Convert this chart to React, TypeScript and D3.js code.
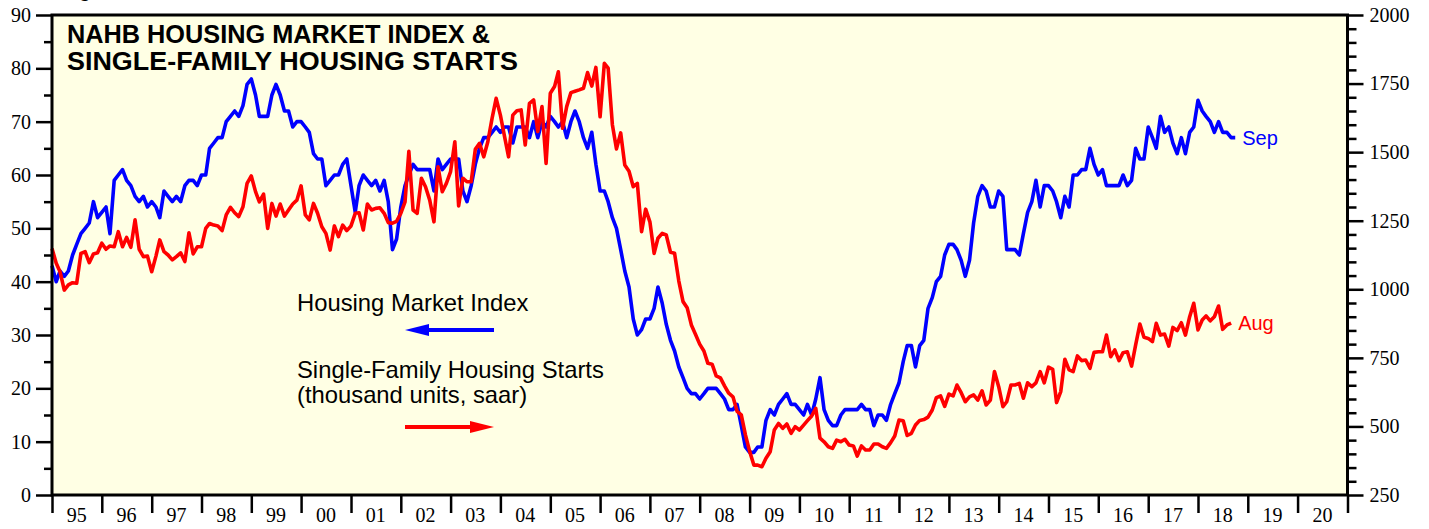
import React, { useEffect, useRef } from 'react';
import * as d3 from 'd3';

// NAHB housing market index (left axis), monthly from Dec 1994 to Sep 2018
const hmi = [
  43,
  40, 42, 41, 42, 45, 47, 49, 50, 51, 55, 52, 53,
  54, 49, 59, 60, 61, 59, 58, 56, 55, 56, 54, 55,
  54, 52, 57, 56, 55, 56, 55, 58, 59, 59, 58, 60,
  60, 65, 66, 67, 67, 70, 71, 72, 71, 73, 77, 78,
  75, 71, 71, 71, 75, 77, 75, 72, 72, 69, 70, 70,
  69, 68, 64, 63, 63, 58, 59, 60, 60, 62, 63, 58,
  53, 58, 60, 59, 58, 59, 57, 59, 55, 46, 48, 54,
  58, 60, 62, 61, 61, 61, 61, 57, 63, 61, 62, 63,
  63, 63, 57, 55, 58, 62, 65, 67, 67, 68, 69, 68,
  69, 69, 66, 69, 69, 69, 67, 70, 67, 70, 69, 71,
  70, 69, 70, 67, 70, 72, 70, 67, 65, 68, 62, 57,
  57, 55, 52, 50, 46, 42, 39, 33, 30, 31, 33, 33,
  35, 39, 36, 32, 29, 27, 24, 22, 20, 19, 19, 18,
  19, 20, 20, 20, 19, 18, 16, 16, 17, 13, 9, 8,
  8, 9, 9, 14, 16, 15, 17, 18, 19, 17, 17, 16,
  15, 17, 15, 18, 22, 16, 14, 13, 13, 15, 16, 16,
  16, 16, 17, 16, 16, 13, 15, 15, 14, 17, 19, 21,
  25, 28, 28, 24, 28, 29, 35, 37, 40, 41, 45, 47,
  47, 46, 44, 41, 44, 51, 56, 58, 57, 54, 54, 57,
  56, 46, 46, 46, 45, 49, 53, 55, 59, 54, 58, 58,
  57, 55, 52, 56, 54, 60, 60, 61, 61, 65, 62, 60,
  61, 58, 58, 58, 58, 60, 58, 59, 65, 63, 63, 69,
  67, 65, 71, 68, 69, 66, 64, 67, 64, 68, 69, 74,
  72, 71, 70, 68, 70, 68, 68, 67, 67,
];

// single-family housing starts, thousand units saar (right axis), Dec 1994 to Aug 2018
const starts = [
  1149,
  1095, 1064, 997, 1016, 1024, 1022, 1131, 1137, 1097, 1129, 1133, 1168,
  1146, 1158, 1155, 1210, 1155, 1189, 1153, 1253, 1146, 1119, 1121, 1064,
  1121, 1180, 1137, 1125, 1107, 1119, 1133, 1101, 1206, 1129, 1155, 1155,
  1222, 1240, 1234, 1231, 1214, 1271, 1299, 1279, 1265, 1301, 1386, 1413,
  1356, 1319, 1347, 1222, 1313, 1267, 1311, 1267, 1289, 1311, 1325, 1377,
  1271, 1253, 1313, 1277, 1228, 1204, 1143, 1231, 1192, 1234, 1214, 1231,
  1277, 1279, 1216, 1311, 1289, 1295, 1297, 1277, 1243, 1241, 1248, 1277,
  1319, 1503, 1289, 1277, 1405, 1374, 1325, 1246, 1447, 1356, 1386, 1429,
  1538, 1304, 1405, 1392, 1392, 1510, 1532, 1483, 1538, 1623, 1696, 1635,
  1556, 1483, 1635, 1651, 1654, 1526, 1678, 1690, 1575, 1666, 1459, 1715,
  1739, 1793, 1587, 1666, 1717, 1722, 1727, 1733, 1790, 1741, 1809, 1629,
  1824, 1806, 1600, 1512, 1570, 1453, 1430, 1374, 1386, 1210, 1292, 1246,
  1131, 1186, 1204, 1198, 1135, 1131, 1030, 955, 933, 870, 836, 800,
  775, 730, 727, 684, 677, 648, 621, 608, 555, 542, 470, 410,
  359, 359, 353, 384, 408, 487, 511, 493, 509, 475, 499, 487,
  505, 521, 538, 566, 457, 444, 426, 420, 450, 444, 453, 432,
  429, 392, 429, 414, 414, 436, 436, 426, 420, 441, 465, 523,
  521, 467, 475, 505, 522, 525, 534, 560, 605, 611, 573, 618,
  611, 651, 623, 590, 608, 615, 596, 630, 578, 596, 700, 645,
  572, 590, 651, 651, 657, 603, 659, 645, 659, 700, 659, 716,
  708, 587, 627, 745, 706, 700, 757, 740, 742, 712, 770, 772,
  772, 833, 754, 779, 740, 769, 772, 720, 797, 873, 825, 821,
  809, 876, 833, 837, 793, 861, 849, 878, 833, 900, 949, 852,
  888, 903, 885, 900, 939, 854, 870, 877,
];

const years = d3.range(1995, 2021);
const leftTicks = d3.range(0, 91, 10);
const rightTicks = d3.range(250, 2001, 250);

const SERIF = '"Liberation Serif", "Times New Roman", serif';
const SANS = '"Liberation Sans", Arial, Helvetica, sans-serif';

// each monthly value is plotted at the end of its month
const monthEnd = (i) => new Date(1995, i, 1);

const App = () => {
  const svgRef = useRef();

  useEffect(() => {
    const svg = d3.select(svgRef.current);
    svg.selectAll('*').remove();

    const width = 1429;
    const height = 529;
    const margin = { top: 15, right: 81.5, bottom: 34, left: 52 };
    const x0 = margin.left;
    const x1 = width - margin.right;
    const y0 = height - margin.bottom;
    const y1 = margin.top;

    svg.attr('width', width).attr('height', height);

    const x = d3.scaleTime()
      .domain([new Date(1995, 0, 1), new Date(2021, 0, 1)])
      .range([x0, x1]);
    const yL = d3.scaleLinear().domain([0, 90]).range([y0, y1]);
    const yR = d3.scaleLinear().domain([250, 2000]).range([y0, y1]);

    // caption above the chart, cropped by the top edge as in the source
    svg.append('text')
      .attr('x', 62).attr('y', -3)
      .style('font-family', SANS).style('font-weight', 'bold').style('font-size', '19px')
      .text('Figure');

    // plot background
    svg.append('rect')
      .attr('x', x0).attr('y', y1)
      .attr('width', x1 - x0).attr('height', y0 - y1)
      .attr('fill', '#ffffe4');

    // left axis: major + minor ticks
    const left = svg.append('g').attr('transform', `translate(${x0},0)`);
    left.append('g')
      .call(d3.axisLeft(yL).tickValues(d3.range(5, 90, 10)).tickSize(8).tickFormat(() => ''));
    left.append('g')
      .call(d3.axisLeft(yL).tickValues(leftTicks).tickSize(16).tickPadding(5).tickFormat(d3.format('d')));

    // right axis
    const right = svg.append('g').attr('transform', `translate(${x1},0)`);
    right.append('g')
      .call(d3.axisRight(yR).tickValues(d3.range(300, 2000, 50).filter(d => d % 250 !== 0)).tickSize(9).tickFormat(() => ''));
    right.append('g')
      .call(d3.axisRight(yR).tickValues(rightTicks).tickSize(16).tickPadding(6).tickFormat(d3.format('d')));

    // bottom axis: year ticks, labels centred in each year
    const bottom = svg.append('g').attr('transform', `translate(0,${y0})`);
    bottom.append('g')
      .call(d3.axisBottom(x).tickValues(d3.range(1995, 2022).map(y => new Date(y, 0, 1))).tickSize(18).tickFormat(() => ''));
    bottom.selectAll('.yearLabel')
      .data(years)
      .join('text')
      .attr('class', 'yearLabel')
      .attr('x', d => x(new Date(d, 6, 1)))
      .attr('y', 27)
      .attr('text-anchor', 'middle')
      .text(d => String(d).slice(2));

    svg.selectAll('.domain').remove();
    svg.selectAll('.tick line').attr('stroke', '#000').attr('stroke-width', 2.5);
    svg.selectAll('.tick text').attr('fill', '#000');
    svg.selectAll('.tick text, .yearLabel')
      .style('font-family', SERIF).style('font-size', '20px');

    // lines
    const lineL = d3.line().x((d, i) => x(monthEnd(i))).y(d => yL(d));
    const lineR = d3.line().x((d, i) => x(monthEnd(i))).y(d => yR(d));

    svg.append('path')
      .datum(hmi)
      .attr('d', lineL)
      .attr('fill', 'none').attr('stroke', '#0000ff')
      .attr('stroke-width', 3.6).attr('stroke-linejoin', 'round');

    svg.append('path')
      .datum(starts)
      .attr('d', lineR)
      .attr('fill', 'none').attr('stroke', '#ff0000')
      .attr('stroke-width', 3.6).attr('stroke-linejoin', 'round');

    // end labels
    svg.append('text')
      .attr('x', x(monthEnd(hmi.length - 1)) + 7).attr('y', yL(hmi[hmi.length - 1]) + 7)
      .attr('fill', '#0000ff')
      .style('font-family', SANS).style('font-size', '20px')
      .text('Sep');
    svg.append('text')
      .attr('x', x(monthEnd(starts.length - 1)) + 7).attr('y', yR(starts[starts.length - 1]) + 7)
      .attr('fill', '#ff0000')
      .style('font-family', SANS).style('font-size', '20px')
      .text('Aug');

    // frame
    svg.append('rect')
      .attr('x', x0).attr('y', y1)
      .attr('width', x1 - x0).attr('height', y0 - y1)
      .attr('fill', 'none').attr('stroke', '#000').attr('stroke-width', 3);

    // title
    const title = svg.append('text')
      .style('font-family', SANS).style('font-weight', 'bold').style('font-size', '25px');
    title.append('tspan').attr('x', 67).attr('y', 43)
      .attr('textLength', 423).attr('lengthAdjust', 'spacingAndGlyphs')
      .text('NAHB HOUSING MARKET INDEX &');
    title.append('tspan').attr('x', 67).attr('y', 70)
      .attr('textLength', 451).attr('lengthAdjust', 'spacingAndGlyphs')
      .text('SINGLE-FAMILY HOUSING STARTS');

    // legend
    const legend = svg.append('g').style('font-family', SANS).style('font-size', '23.8px');
    legend.append('text').attr('x', 297).attr('y', 311).text('Housing Market Index');
    legend.append('text').attr('x', 297).attr('y', 378).text('Single-Family Housing Starts');
    legend.append('text').attr('x', 297).attr('y', 403).text('(thousand units, saar)');

    const arrow = (ya, color, pointLeft) => {
      const a = 405, b = 494, head = 24, half = 6;
      const g = svg.append('g');
      g.append('line')
        .attr('x1', pointLeft ? a + head - 2 : a).attr('x2', pointLeft ? b : b - head + 2)
        .attr('y1', ya).attr('y2', ya)
        .attr('stroke', color).attr('stroke-width', 4);
      const pts = pointLeft
        ? [[a, ya], [a + head, ya - half], [a + head, ya + half]]
        : [[b, ya], [b - head, ya - half], [b - head, ya + half]];
      g.append('polygon').attr('points', pts.map(p => p.join(',')).join(' ')).attr('fill', color);
    };
    arrow(330, '#0000ff', true);
    arrow(427, '#ff0000', false);
  }, []);

  return (
    <svg ref={svgRef} style={{ position: 'absolute', left: 0, top: 0, display: 'block' }}></svg>
  );
};

export default App;
